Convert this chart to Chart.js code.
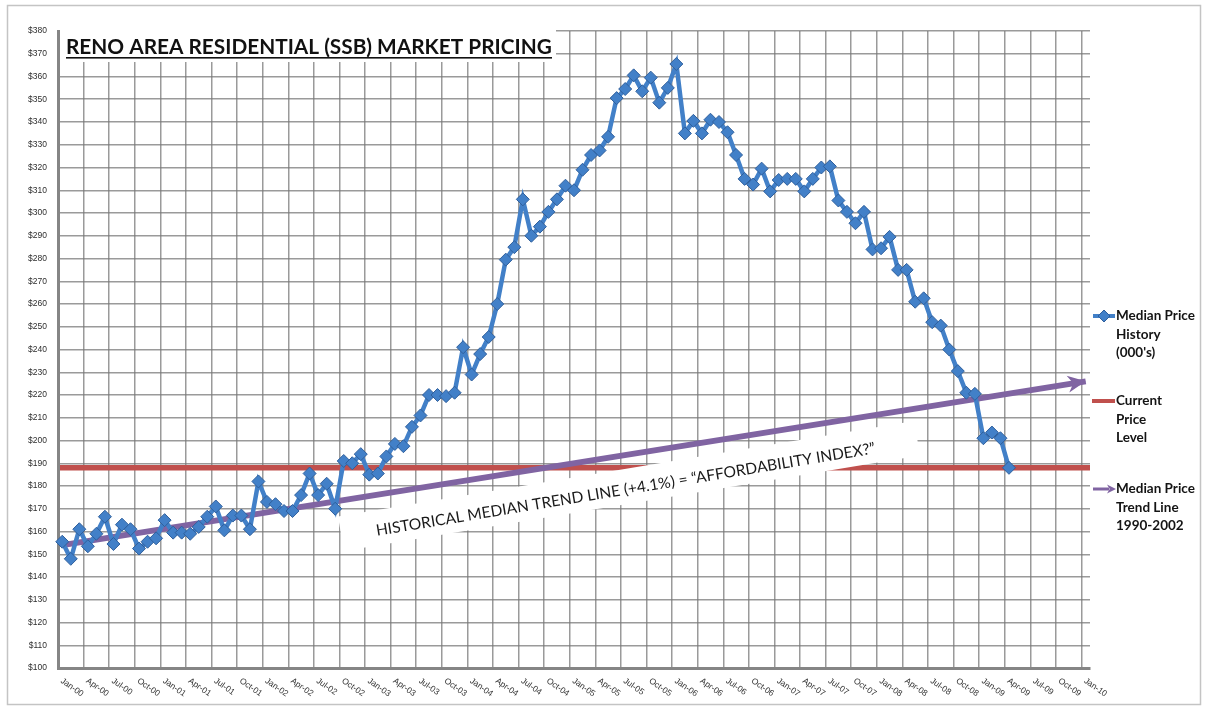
<!DOCTYPE html>
<html>
<head>
<meta charset="utf-8">
<script src="https://cdn.jsdelivr.net/npm/chart.js@4.4.1/dist/chart.umd.min.js"></script>
<style>
  html, body { margin: 0; padding: 0; background: #fff; }
  canvas { display: block; }
</style>
</head>
<body>
<canvas id="reno" width="1207" height="706"></canvas>
<script>
// month / year parts of the category labels (Jan-00 .. Jan-10)
const months = ['Jan', 'Feb', 'Mar', 'Apr', 'May', 'Jun', 'Jul', 'Aug', 'Sep', 'Oct', 'Nov', 'Dec'];
const years = ['00', '01', '02', '03', '04', '05', '06', '07', '08', '09', '10'];

// median price history, $000's, Jan-00 .. Apr-09
const medianPrice = [
  155.5, 148, 161, 153.5, 159, 166.5, 154.5, 163, 161, 152.5, 155.5, 157,
  165, 159.5, 159.5, 159, 162, 166.5, 171, 160.5, 167, 167, 161, 182,
  173, 172, 169, 169, 176, 185.5, 176, 181, 170, 191, 190, 194,
  185, 185.5, 193, 198.5, 197.5, 206, 211, 220, 220, 219.5, 221, 241,
  229, 238, 245.5, 260, 279.5, 285, 306, 290, 294, 300.5, 306, 312,
  310, 319, 325.5, 327.5, 333.5, 350.5, 354.5, 360.5, 353.5, 359.5, 348.5, 355,
  365.5, 335, 340.5, 335, 341, 340, 335.5, 325.5, 315, 312.5, 319.5, 309.5,
  314.5, 315, 315, 309.5, 315, 320, 320.5, 305.5, 300.5, 295.5, 300.5, 284,
  284.5, 289.5, 275, 275, 261, 262.5, 252, 250.5, 240, 230.5, 221, 220.5,
  201, 203.5, 201, 188
];

// current price level and the trend line end points (Jan-00, Jan-10)
const currentLevel = 188;
const trendStart = 154;
const trendEnd = 226;

const chartTitle = 'RENO AREA RESIDENTIAL (SSB) MARKET PRICING';
const trendNote = 'HISTORICAL MEDIAN TREND LINE (+4.1%) = \u201CAFFORDABILITY INDEX?\u201D';
const legendItems = [
  { kind: 'marker', lines: ['Median Price', 'History', "(000's)"] },
  { kind: 'line', lines: ['Current', 'Price', 'Level'] },
  { kind: 'arrow', lines: ['Median Price', 'Trend Line', '1990-2002'] }
];

const blue = '#4280c8';
const blueDark = '#2f5f9c';
const red = '#c0504d';
const purple = '#8064a2';
const gridColor = 'rgba(120,120,120,0.75)';

const labels = [];
years.forEach((yy, yi) => {
  months.forEach((m, mi) => {
    if (yi < years.length - 1 || mi === 0) labels.push(m + '-' + yy);
  });
});

const trend = labels.map((_, i) => i === 0 ? trendStart : (i === labels.length - 1 ? trendEnd : null));

function fitFont(ctx, text, width, weight, family) {
  ctx.font = weight + ' 20px ' + family;
  const size = 20 * width / ctx.measureText(text).width;
  ctx.font = weight + ' ' + size.toFixed(2) + 'px ' + family;
}

function arrowHead(ctx, x, y, angle, len, half) {
  ctx.save();
  ctx.translate(x, y);
  ctx.rotate(angle);
  ctx.beginPath();
  ctx.moveTo(0, 0);
  ctx.lineTo(-len, -half);
  ctx.lineTo(-len * 0.7, 0);
  ctx.lineTo(-len, half);
  ctx.closePath();
  ctx.fill();
  ctx.restore();
}

const decorations = {
  id: 'decorations',
  beforeDatasetsDraw(chart) {
    const { ctx, chartArea: a, scales: { x, y } } = chart;
    ctx.save();

    // current price level
    const ly = y.getPixelForValue(currentLevel);
    ctx.strokeStyle = red;
    ctx.lineWidth = 5.5;
    ctx.beginPath();
    ctx.moveTo(a.left + 2, ly);
    ctx.lineTo(a.right, ly);
    ctx.stroke();

    // title on a white panel
    ctx.fillStyle = '#fff';
    ctx.fillRect(a.left + 2, a.top - 2, 496, 33);
    ctx.fillStyle = '#111';
    fitFont(ctx, chartTitle, 486, 'bold', 'Lato');
    ctx.textAlign = 'left';
    ctx.textBaseline = 'alphabetic';
    ctx.fillText(chartTitle, a.left + 8, a.top + 23);
    ctx.fillRect(a.left + 8, a.top + 26, 486, 1.6);

    // slanted note under the trend line
    const cx = x.getPixelForValue(66.45);
    const cy = y.getPixelForValue(180);
    ctx.translate(cx, cy);
    ctx.rotate(-9.4 * Math.PI / 180);
    ctx.fillStyle = '#fff';
    ctx.fillRect(-292, -17.5, 584, 35);
    ctx.fillStyle = '#1a1a1a';
    fitFont(ctx, trendNote, 506, 'normal', 'Lato');
    ctx.textAlign = 'center';
    ctx.textBaseline = 'middle';
    ctx.fillText(trendNote, -4, 3);
    ctx.restore();
  },
  afterDatasetsDraw(chart) {
    const { ctx } = chart;
    const meta = chart.getDatasetMeta(1);
    const p0 = meta.data[0];
    const p1 = meta.data[meta.data.length - 1];
    ctx.save();
    ctx.fillStyle = purple;
    arrowHead(ctx, p1.x, p1.y, Math.atan2(p1.y - p0.y, p1.x - p0.x), 18, 8.5);
    ctx.restore();
  },
  afterDraw(chart) {
    const { ctx, chartArea: a, scales: { x } } = chart;
    ctx.save();

    // rotated month labels, every third category
    ctx.fillStyle = '#333';
    ctx.font = '8.5px "Liberation Sans"';
    ctx.textAlign = 'left';
    ctx.textBaseline = 'middle';
    for (let i = 0; i < labels.length; i += 3) {
      const px = x.getPixelForValue(i);
      ctx.save();
      ctx.translate(px - 1, a.bottom + 12);
      ctx.rotate(35 * Math.PI / 180);
      ctx.fillText(labels[i], 0, 0);
      ctx.restore();
    }

    // legend
    const lx = a.right + 3;
    const tops = [316, 401, 489];
    ctx.font = 'bold 13.5px Lato';
    ctx.textBaseline = 'middle';
    legendItems.forEach((item, k) => {
      const ty = tops[k];
      if (item.kind === 'marker') {
        ctx.strokeStyle = blue;
        ctx.lineWidth = 4;
        ctx.beginPath(); ctx.moveTo(lx, ty); ctx.lineTo(lx + 22, ty); ctx.stroke();
        ctx.fillStyle = blue;
        ctx.strokeStyle = blueDark;
        ctx.lineWidth = 1;
        ctx.beginPath();
        ctx.moveTo(lx + 11, ty - 6); ctx.lineTo(lx + 17, ty); ctx.lineTo(lx + 11, ty + 6); ctx.lineTo(lx + 5, ty);
        ctx.closePath(); ctx.fill(); ctx.stroke();
      } else if (item.kind === 'line') {
        ctx.strokeStyle = red;
        ctx.lineWidth = 4;
        ctx.beginPath(); ctx.moveTo(lx - 1, ty); ctx.lineTo(lx + 22, ty); ctx.stroke();
      } else {
        ctx.strokeStyle = purple;
        ctx.lineWidth = 3;
        ctx.beginPath(); ctx.moveTo(lx, ty); ctx.lineTo(lx + 16, ty); ctx.stroke();
        ctx.fillStyle = purple;
        arrowHead(ctx, lx + 23, ty, 0, 9, 4.5);
      }
      ctx.fillStyle = '#141414';
      item.lines.forEach((t, j) => ctx.fillText(t, lx + 23, ty + j * 18.5));
    });

    // outer frame
    ctx.strokeStyle = '#c4c4c4';
    ctx.lineWidth = 1.5;
    ctx.strokeRect(7.5, 5.5, 1193, 699);
    ctx.restore();
  }
};

new Chart(document.getElementById('reno'), {
  type: 'line',
  data: {
    labels: labels,
    datasets: [{
      label: 'Median Price History (000\'s)',
      data: medianPrice,
      borderColor: blue,
      borderWidth: 4.5,
      pointStyle: 'rectRot',
      pointRadius: 6.5,
      pointBackgroundColor: blue,
      pointBorderColor: blueDark,
      pointBorderWidth: 1,
      tension: 0
    }, {
      label: 'Median Price Trend Line 1990-2002',
      data: trend,
      borderColor: purple,
      borderWidth: 6,
      pointRadius: 0,
      spanGaps: true
    }]
  },
  options: {
    responsive: false,
    devicePixelRatio: 1,
    animation: false,
    events: [],
    layout: { padding: { top: 31, right: 117, bottom: 38, left: 0 } },
    plugins: {
      legend: { display: false },
      title: { display: false },
      tooltip: { enabled: false }
    },
    scales: {
      x: {
        type: 'category',
        offset: true,
        grid: {
          offset: true,
          drawTicks: false,
          lineWidth: 1.5,
          color: (c) => (c.index % 3 === 0 && c.index < labels.length) ? gridColor : 'rgba(0,0,0,0)'
        },
        border: { color: '#858585', width: 3 },
        ticks: { display: false, autoSkip: false },
        afterFit: (s) => { s.height = 0; }
      },
      y: {
        min: 100,
        max: 380,
        grid: { drawTicks: false, lineWidth: 1.5, color: gridColor },
        border: { color: '#858585', width: 3 },
        ticks: {
          stepSize: 10,
          padding: 11,
          color: '#2e2e2e',
          font: { family: 'Liberation Sans', size: 8.5 },
          callback: (v) => '$' + v
        },
        afterFit: (s) => { s.width = 58; }
      }
    }
  },
  plugins: [decorations]
});
</script>
</body>
</html>
